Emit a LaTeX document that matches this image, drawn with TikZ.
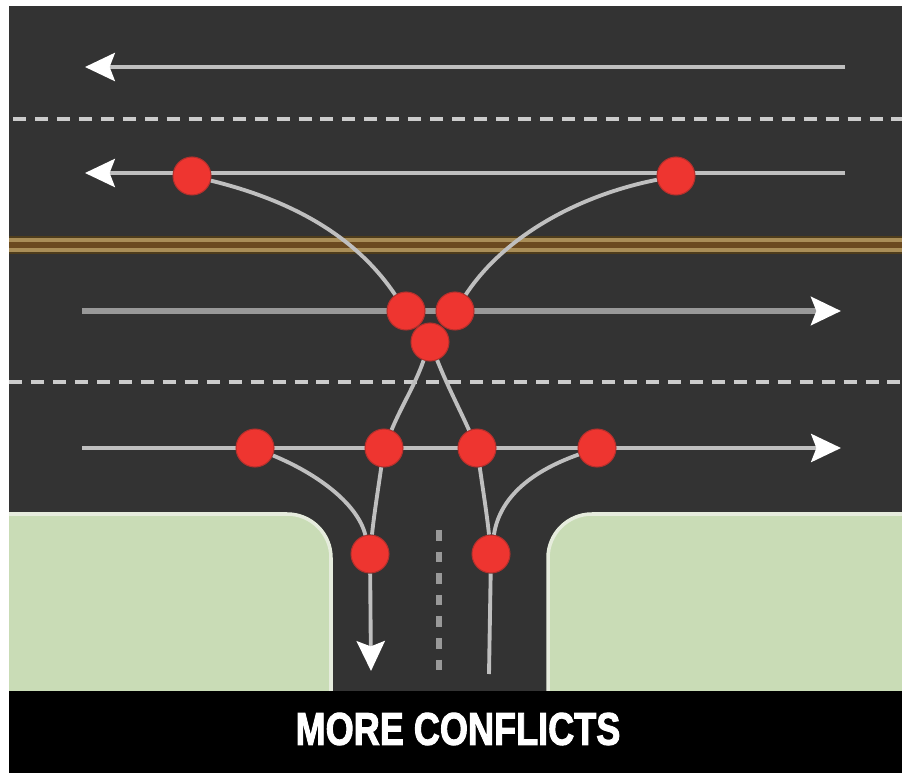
\documentclass[tikz,border=0pt]{standalone}
\usepackage{fontspec}
\setmainfont[BoldFeatures={FakeBold=2.5}]{Liberation Sans}
\usepackage{tikz}
\usetikzlibrary{arrows.meta}
\definecolor{asphalt}{HTML}{333333}
\definecolor{grass}{HTML}{C9DCB6}
\definecolor{curb}{HTML}{E6ECDD}
\definecolor{hitred}{HTML}{EE3530}
\definecolor{hitrim}{HTML}{B5302C}
\definecolor{stripe}{HTML}{A98E58}
\definecolor{stripebrown}{HTML}{6B4A20}
\definecolor{stripeedge}{HTML}{4F3D1C}
\tikzset{
  lane/.style={color=black!25, line width=2.2pt},
  lanewide/.style={color=black!40, line width=3.2pt},
  lanearrow/.style={-{Stealth[length=17pt, width=16pt, inset=3pt, color=white]}},
  turnpath/.style={color=black!25, line width=2.2pt},
  lanedash/.style={color=black!20, line width=2pt, dash pattern=on 7.4pt off 5.1pt},
  conflict/.style={circle, fill=hitred, draw=hitrim, line width=0.6pt, minimum size=0.76cm, inner sep=0pt},
}

\begin{document}
\begin{tikzpicture}[x=0.02cm, y=-0.02cm]
\useasboundingbox (0, 0) rectangle (902, 773);
\fill[white] (0, 0) rectangle (902, 773);
\fill[asphalt] (9, 6) rectangle (902, 692);

\fill[stripeedge] (9, 236.5) rectangle (902, 254.5);
\fill[stripebrown] (9, 242) rectangle (902, 249);
\fill[stripe] (9, 238.5) rectangle (902, 242.5);
\fill[stripe] (9, 248.5) rectangle (902, 252.5);

\fill[grass] (9, 513) [rounded corners=25pt] -- (332, 513) [sharp corners] -- (332, 692) -- (9, 692) -- cycle;
\fill[grass] (902, 513) [rounded corners=25pt] -- (547, 513) [sharp corners] -- (547, 692) -- (902, 692) -- cycle;
\draw[curb, line width=2pt] (9, 514) [rounded corners=25pt] -- (331, 514) [sharp corners] -- (331, 692);
\draw[curb, line width=2pt] (902, 514) [rounded corners=25pt] -- (548, 514) [sharp corners] -- (548, 692);
\fill[black] (9, 691) rectangle (902, 773);

\coordinate (topEast) at (845, 67);
\coordinate (topWest) at (85, 67);
\coordinate (upperEast) at (845, 173);
\coordinate (upperWest) at (85, 173);
\coordinate (middleWest) at (82, 311);
\coordinate (middleEast) at (841, 311);
\coordinate (lowerWest) at (82, 448);
\coordinate (lowerEast) at (841, 448);
\coordinate (exitEnd) at (371, 671);
\coordinate (entryEnd) at (489, 674);

\draw[lanedash] (13, 119) -- (902, 119);
\draw[lanedash] (9, 382) -- (902, 382);
\draw[color=black!40, line width=3.6pt, dash pattern=on 6pt off 6.3pt] (439, 530) -- (439, 674);

\draw[lane, lanearrow] (topEast) -- (topWest);
\draw[lane, lanearrow] (upperEast) -- (upperWest);
\draw[lanewide, lanearrow] (middleWest) -- (middleEast);
\draw[lane, lanearrow] (lowerWest) -- (lowerEast);

\node[conflict] (hitNW) at (192, 176) {};
\node[conflict] (hitNE) at (676, 176) {};
\node[conflict] (hitCL) at (406, 311) {};
\node[conflict] (hitCR) at (455, 311) {};
\node[conflict] (hitCC) at (430, 342) {};
\node[conflict] (hitWW) at (255, 448) {};
\node[conflict] (hitWI) at (384, 448) {};
\node[conflict] (hitEI) at (477, 448) {};
\node[conflict] (hitEE) at (597, 448) {};
\node[conflict] (hitSL) at (370, 554) {};
\node[conflict] (hitSR) at (491, 554) {};

\draw[turnpath] (hitNW) .. controls (290, 200) and (355, 235) .. (hitCL);
\draw[turnpath] (hitNE) .. controls (580, 195) and (505, 235) .. (hitCR);
\draw[turnpath] (hitCC) .. controls (415, 385) and (402, 405) .. (hitWI);
\draw[turnpath] (hitCC) .. controls (447, 385) and (460, 410) .. (hitEI);
\draw[turnpath] (hitWW) .. controls (320, 475) and (358, 505) .. (hitSL);
\draw[turnpath] (hitWI) .. controls (378, 490) and (374, 515) .. (hitSL);
\draw[turnpath] (hitEI) .. controls (483, 490) and (487, 515) .. (hitSR);
\draw[turnpath] (hitEE) .. controls (535, 470) and (500, 495) .. (hitSR);
\draw[turnpath, lanearrow] (hitSL) -- (exitEnd);
\draw[turnpath] (hitSR) -- (entryEnd);

\node[text=white, font=\bfseries\fontsize{26}{26}\selectfont, xscale=0.79] (caption) at (458, 729) {MORE CONFLICTS};
\end{tikzpicture}
\end{document}
